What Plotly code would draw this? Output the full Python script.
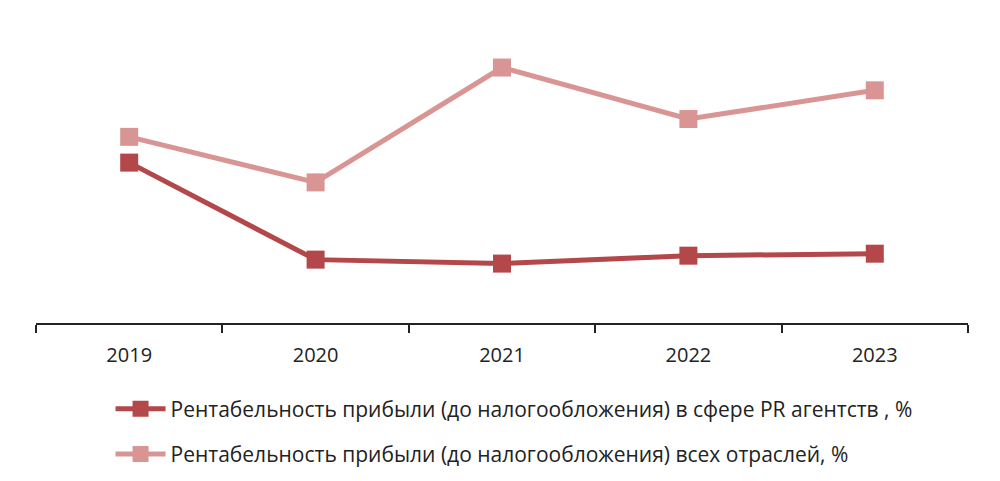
import plotly.graph_objects as go

years = ["2019", "2020", "2021", "2022", "2023"]
pr_agencies = [8.1, 3.2, 3.0, 3.4, 3.5]
all_industries = [9.4, 7.1, 12.9, 10.3, 11.75]
names = [
    "Рентабельность прибыли (до налогообложения) в сфере PR агентств , %",
    "Рентабельность прибыли (до налогообложения) всех отраслей, %",
]
colors = ["#B3474A", "#D99594"]

fig = go.Figure()
for i, (vals, name, col) in enumerate(zip([pr_agencies, all_industries], names, colors)):
    fig.add_trace(go.Scatter(
        x=years, y=vals, name=name, mode="lines+markers",
        line=dict(color=col, width=5),
        marker=dict(symbol="square", size=18, color=col),
        legendgroup=f"g{i}",
    ))

font_family = "'Open Sans', Lato, sans-serif"
fig.update_layout(
    width=1000, height=481,
    margin=dict(l=36, r=32, t=22, b=158, autoexpand=False),
    paper_bgcolor="white", plot_bgcolor="white",
    font=dict(family=font_family, size=21, color="#222222"),
    showlegend=True,
    legend=dict(
        orientation="v", x=0.08, xanchor="left",
        yref="container", y=0.192, yanchor="top",
        font=dict(size=21, color="#222222"),
        tracegroupgap=15, itemwidth=50,
    ),
    xaxis=dict(
        type="category", range=[-0.5, 4.5],
        tickson="boundaries", ticks="outside", ticklen=8, tickwidth=2, tickcolor="#222",
        showline=True, linecolor="#222", linewidth=2,
        showgrid=False, zeroline=False,
        tickfont=dict(size=20, color="#222222"),
        ticklabelstandoff=13,
    ),
    yaxis=dict(range=[0, 15.2], visible=False, showgrid=False, zeroline=False),
)

fig.write_html("out.html")
